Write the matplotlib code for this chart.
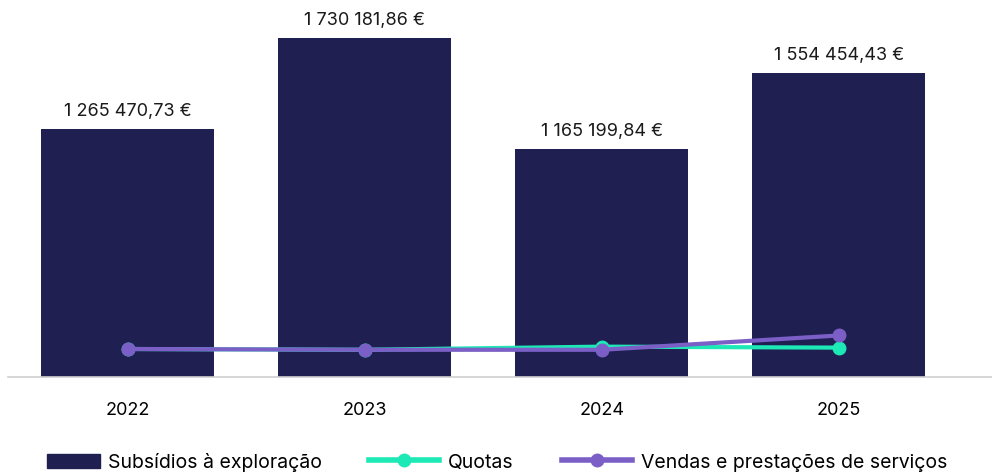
import numpy as np
import matplotlib.pyplot as plt
from matplotlib.patches import Patch
from matplotlib.lines import Line2D

# Data
years = ["2022", "2023", "2024", "2025"]
subsidios = [1265470.73, 1730181.86, 1165199.84, 1554454.43]
quotas = [143000, 139000, 155000, 150000]
vendas = [143000, 139000, 139000, 212000]
value_labels = ["1 265 470,73 €", "1 730 181,86 €", "1 165 199,84 €", "1 554 454,43 €"]

c_bar = "#1f1f52"
c_quotas = "#1de9b6"
c_vendas = "#7b5fc7"

plt.rcParams["font.family"] = ["Inter", "DejaVu Sans"]

fig = plt.figure(figsize=(9.92, 4.77), dpi=100)
ax = fig.add_axes([8 / 992, 99 / 477, 984 / 992, 378 / 477])

x = np.arange(len(years))
ax.bar(x, subsidios, width=0.73, color=c_bar, zorder=2)
ax.plot(x, quotas, color=c_quotas, lw=3, marker="o", ms=9, zorder=3)
ax.plot(x, vendas, color=c_vendas, lw=3, marker="o", ms=9, zorder=4)

for xi, v, lab in zip(x, subsidios, value_labels):
    ax.annotate(lab, (xi, v), xytext=(0, 7), textcoords="offset points",
                ha="center", va="bottom", fontsize=13, color="#1a1a1a")

ax.set_xlim(-0.506, 3.646)
ax.set_ylim(0, 1.93e6)
ax.set_xticks(x)
ax.set_xticklabels(years, fontsize=13)
ax.tick_params(axis="x", length=0, pad=17)
ax.set_yticks([])
for s in ("top", "right", "left"):
    ax.spines[s].set_visible(False)
ax.spines["bottom"].set_color("#d0d0d0")
ax.spines["bottom"].set_linewidth(1.2)

# Legend, one entry at a time to place them like the reference
entries = [
    (Patch(color=c_bar), "Subsídios à exploração", 2.7, 47 / 992),
    (Line2D([], [], color=c_quotas, lw=4, marker="o", ms=9), "Quotas", 3.6, 369 / 992),
    (Line2D([], [], color=c_vendas, lw=4, marker="o", ms=9),
     "Vendas e prestações de serviços", 3.6, 562 / 992),
]
for h, lab, hl, xpos in entries:
    fig.legend([h], [lab], loc="center left", bbox_to_anchor=(xpos, 14 / 477),
               frameon=False, handlelength=hl, handletextpad=0.45,
               borderaxespad=0, borderpad=0, prop={"size": 14})

fig.savefig("out.png", dpi=100)
